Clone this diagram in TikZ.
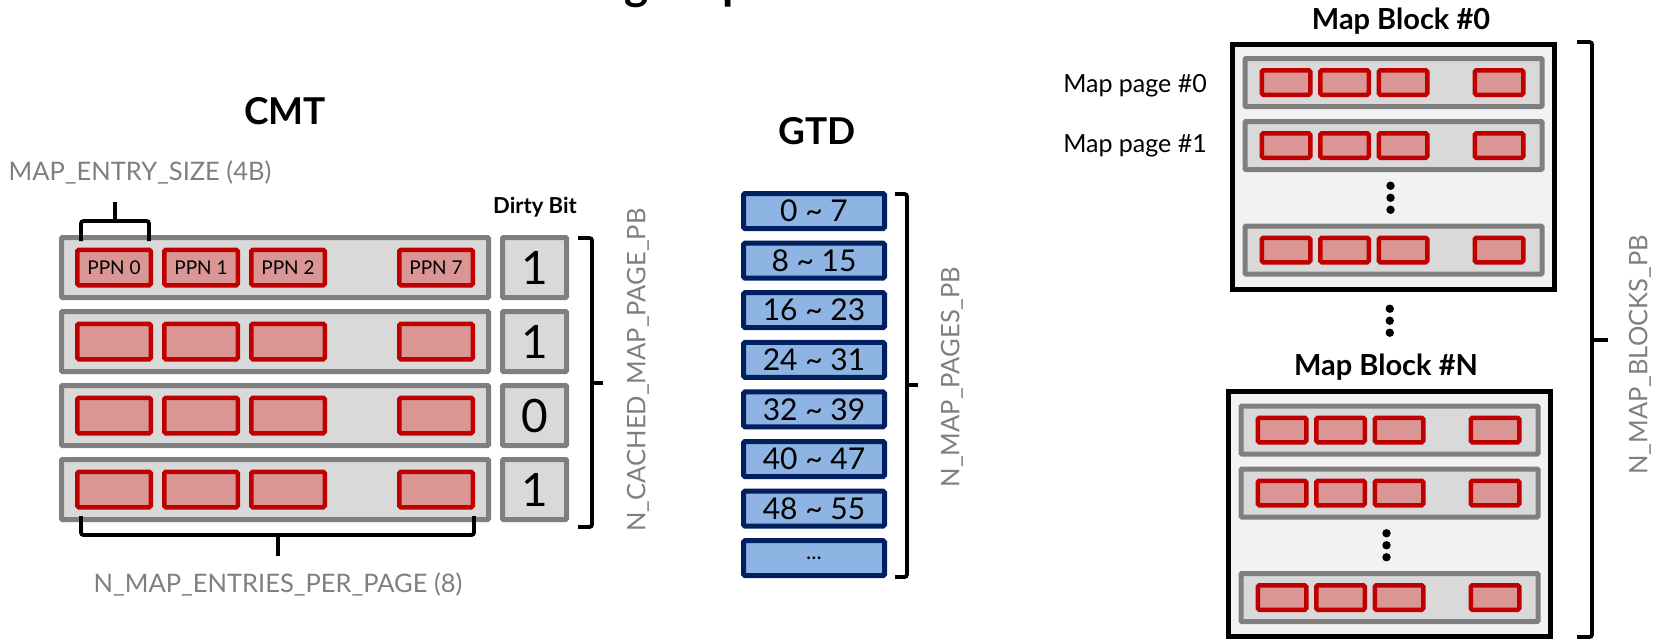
\documentclass[tikz,border=0pt]{standalone}
\usepackage{fontspec}
\setmainfont{Lato}
\usetikzlibrary{calc}
\definecolor{rowgray}{HTML}{D9D9D9}
\definecolor{linegray}{HTML}{7F7F7F}
\definecolor{cellred}{HTML}{C00000}
\definecolor{cellpink}{HTML}{D99694}
\definecolor{gtdblue}{HTML}{8EB4E3}
\definecolor{gtdnavy}{HTML}{002060}
\definecolor{blockbg}{HTML}{F2F2F2}
\begin{document}
\begin{tikzpicture}[x=1pt,y=-1pt,
    cmtrow/.style={draw=linegray,fill=rowgray,line width=5pt,minimum width=427pt,minimum height=60pt,inner sep=0pt,rounded corners=1pt},
    dirtybox/.style={draw=linegray,fill=rowgray,line width=5pt,minimum width=64pt,minimum height=60pt,inner sep=0pt,rounded corners=1pt,font=\fontsize{46}{48}\selectfont},
    ppn/.style={draw=cellred,fill=cellpink,line width=4.5pt,minimum width=73.5pt,minimum height=35.5pt,inner sep=0pt,rounded corners=1.5pt,font=\fontsize{19}{20}\selectfont},
    gtdbox/.style={draw=gtdnavy,fill=gtdblue,line width=5pt,minimum width=141pt,minimum height=35pt,inner sep=0pt,rounded corners=1.5pt,font=\fontsize{30}{32}\selectfont},
    mapblock/.style={draw=black,fill=blockbg,line width=5pt,minimum width=322pt,minimum height=245pt,inner sep=0pt},
    maprow/.style={draw=linegray,fill=rowgray,line width=5pt,minimum width=297pt,minimum height=48pt,inner sep=0pt,rounded corners=1pt},
    mapcell/.style={draw=cellred,fill=cellpink,line width=4.5pt,minimum width=48.5pt,minimum height=24.5pt,inner sep=0pt,rounded corners=1.5pt},
    heading/.style={font=\bfseries\fontsize{37}{40}\selectfont},
    blocktitle/.style={font=\bfseries\fontsize{29}{32}\selectfont},
    pagename/.style={font=\fontsize{25}{28}\selectfont},
    graylabel/.style={text=linegray,font=\fontsize{25.5}{27}\selectfont},
    bracket/.style={line width=3.8pt,rounded corners=2.5pt}]
\useasboundingbox (0,0) rectangle (1661,641);
% title cut off by the top edge
\begin{scope}
\clip (0,0) rectangle (1661,641);
\node[font=\bfseries\fontsize{46}{50}\selectfont,anchor=base west,inner sep=0pt] (toptitle) at (624,-1) {g\hspace{74pt}p};
\end{scope}

% CMT
\node[heading] (cmttitle) at (285,111) {CMT};
\node[graylabel,anchor=base] (entrysize) at (140,180) {MAP\_ENTRY\_SIZE (4B)};
\node[font=\bfseries\fontsize{22}{24}\selectfont] (dirtytitle) at (535,207) {Dirty Bit};
\node[cmtrow] (r1) at (275,267.5) {};
\node[cmtrow] (r2) at (275,341.5) {};
\node[cmtrow] (r3) at (275,415.5) {};
\node[cmtrow] (r4) at (275,489.5) {};
\node[dirtybox] (d1) at (534.5,267.5) {1};
\node[dirtybox] (d2) at (534.5,341.5) {1};
\node[dirtybox] (d3) at (534.5,415.5) {0};
\node[dirtybox] (d4) at (534.5,489.5) {1};
\node[ppn] (r1a) at ([xshift=-161pt]r1.center) {PPN 0};
\node[ppn] (r1b) at ([xshift=-74pt]r1.center) {PPN 1};
\node[ppn] (r1c) at ([xshift=13pt]r1.center) {PPN 2};
\node[ppn] (r1d) at ([xshift=161pt]r1.center) {PPN 7};
\foreach \r in {r2,r3,r4}
  \foreach \dx/\c in {-161/a,-74/b,13/c,161/d}
    \node[ppn] (\r\c) at ([xshift=\dx pt]\r.center) {};
\draw[bracket] (81,241) -- (81,221) -- (149,221) -- (149,241);
\draw[line width=3.8pt] (115,221) -- (115,202);
\draw[bracket] (81,516) -- (81,535) -- (474,535) -- (474,516);
\draw[line width=3.8pt] (278,535) -- (278,556);
\node[graylabel,anchor=base] (entriesper) at (278,592) {N\_MAP\_ENTRIES\_PER\_PAGE (8)};
\draw[bracket] (578,238) -- (592,238) -- (592,527) -- (578,527);
\draw[line width=3.8pt] (592,383) -- (603,383);
\node[graylabel,rotate=90] (cachedlabel) at (638,370) {N\_CACHED\_MAP\_PAGE\_PB};

% GTD
\node[heading] (gtdtitle) at (817,131.5) {GTD};
\node[gtdbox] (g0) at (814,211) {0 \textasciitilde{} 7};
\node[gtdbox] (g1) at (814,260.6) {8 \textasciitilde{} 15};
\node[gtdbox] (g2) at (814,310.2) {16 \textasciitilde{} 23};
\node[gtdbox] (g3) at (814,359.8) {24 \textasciitilde{} 31};
\node[gtdbox] (g4) at (814,409.4) {32 \textasciitilde{} 39};
\node[gtdbox] (g5) at (814,459) {40 \textasciitilde{} 47};
\node[gtdbox] (g6) at (814,508.6) {48 \textasciitilde{} 55};
\node[gtdbox,font=\fontsize{22}{24}\selectfont] (g7) at (814,558.2) {...};
\draw[bracket] (895,194) -- (907,194) -- (907,577) -- (895,577);
\draw[line width=3.8pt] (907,385) -- (918,385);
\node[graylabel,rotate=90] (pageslabel) at (952,377) {N\_MAP\_PAGES\_PB};

% map blocks
\node[blocktitle,anchor=base] (b0title) at (1401,29) {Map Block \#0};
\node[mapblock] (b0) at (1393.5,166.5) {};
\node[maprow] (b0r1) at ($(b0)+(0,-84)$) {};
\node[maprow] (b0r2) at ($(b0)+(0,-21)$) {};
\node[maprow] (b0r3) at ($(b0)+(0,83.5)$) {};
\node[pagename,anchor=base] (page0) at (1135,92) {Map page \#0};
\node[pagename,anchor=base] (page1) at (1135,152) {Map page \#1};
\node[blocktitle,anchor=base] (bntitle) at (1386,375) {Map Block \#N};
\node[mapblock] (bn) at (1389.5,514) {};
\node[maprow] (bnr1) at ($(bn)+(0,-84)$) {};
\node[maprow] (bnr2) at ($(bn)+(0,-21)$) {};
\node[maprow] (bnr3) at ($(bn)+(0,83.5)$) {};
\foreach \r in {b0r1,b0r2,b0r3,bnr1,bnr2,bnr3}
  \foreach \dx/\c in {-107.5/a,-49/b,9.5/c,105.5/d}
    \node[mapcell] (\r\c) at ([xshift=\dx pt]\r.center) {};
\foreach \d in {-12,0,12} {
  \fill ($(b0r2)!0.5!(b0r3)+(-3,\d)$) circle (4.2);
  \fill ($(bnr2)!0.5!(bnr3)+(-3,\d)$) circle (4.2);
  \fill ($(b0.south)!0.5!(bntitle.north)+(0,\d)$) circle (4.2);
}
\draw[bracket] (1577,42) -- (1592,42) -- (1592,637) -- (1577,637);
\draw[line width=3.8pt] (1592,340) -- (1608,340);
\node[graylabel,rotate=90] (blockslabel) at (1640,355) {N\_MAP\_BLOCKS\_PB};
\end{tikzpicture}
\end{document}
